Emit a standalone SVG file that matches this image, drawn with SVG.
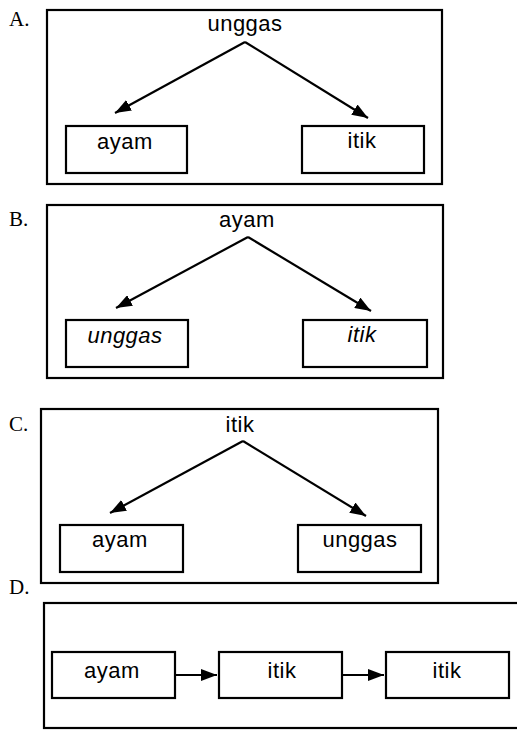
<svg xmlns="http://www.w3.org/2000/svg" width="517" height="730" viewBox="0 0 517 730">
<defs>
<marker id="ah" viewBox="0 0 16 12" refX="16" refY="6" markerWidth="16" markerHeight="12" markerUnits="userSpaceOnUse" orient="auto">
<path d="M0,0 L16,6 L0,12 Z" fill="#000"/>
</marker>
</defs>
<style>
.frame{fill:none;stroke:#000;stroke-width:2.2}
.box{fill:#fff;stroke:#000;stroke-width:2.2}
.lbl{font-family:"Liberation Serif",serif;font-size:21px;fill:#000}
.t{font-family:"Liberation Sans",Arial,sans-serif;font-size:22px;fill:#000;text-anchor:middle;letter-spacing:0.5px}
.it{font-style:italic}
.con{fill:none;stroke:#000;stroke-width:2.2;marker-end:url(#ah)}
</style>
<rect width="517" height="730" fill="#fff"/>
<text class="lbl" x="9" y="26">A.</text>
<text class="lbl" x="9" y="226">B.</text>
<text class="lbl" x="9" y="431">C.</text>
<text class="lbl" x="9" y="594">D.</text>
<g id="frameA"><rect class="frame" x="47" y="10" width="395" height="174"/></g>
<g id="frameB"><rect class="frame" x="47" y="205" width="396" height="173"/></g>
<g id="frameC"><rect class="frame" x="41" y="409" width="397" height="174"/></g>
<g id="frameD"><rect class="frame" x="44" y="603" width="480" height="125"/></g>
<g id="A-unggas"><text class="t" x="245" y="31">unggas</text></g>
<g id="A-ayam"><rect class="box" x="66" y="126" width="121" height="47"/><text class="t" x="125" y="149">ayam</text></g>
<g id="A-itik"><rect class="box" x="302" y="126" width="122" height="47"/><text class="t" x="362" y="148">itik</text></g>
<g id="B-ayam"><text class="t" x="247" y="227">ayam</text></g>
<g id="B-unggas"><rect class="box" x="66" y="320" width="122" height="47"/><text class="t it" x="125" y="343">unggas</text></g>
<g id="B-itik"><rect class="box" x="303" y="320" width="124" height="47"/><text class="t it" x="362" y="342">itik</text></g>
<g id="C-itik"><text class="t" x="240" y="432">itik</text></g>
<g id="C-ayam"><rect class="box" x="60" y="525" width="123" height="47"/><text class="t" x="120" y="547">ayam</text></g>
<g id="C-unggas"><rect class="box" x="298" y="525" width="123" height="47"/><text class="t" x="360" y="547">unggas</text></g>
<g id="D-ayam"><rect class="box" x="52" y="652" width="123" height="46"/><text class="t" x="112" y="678">ayam</text></g>
<g id="D-itik1"><rect class="box" x="219" y="652" width="123" height="46"/><text class="t" x="282" y="678">itik</text></g>
<g id="D-itik2"><rect class="box" x="386" y="652" width="123" height="46"/><text class="t" x="447" y="678">itik</text></g>
<g id="connectors">
<line class="con" x1="245" y1="42" x2="115" y2="113"/>
<line class="con" x1="245" y1="42" x2="368" y2="118"/>
<line class="con" x1="248" y1="237" x2="116" y2="308"/>
<line class="con" x1="248" y1="237" x2="371" y2="311"/>
<line class="con" x1="243" y1="441" x2="110" y2="513"/>
<line class="con" x1="243" y1="441" x2="366" y2="516"/>
<line class="con" x1="175" y1="675" x2="217" y2="675"/>
<line class="con" x1="342" y1="675" x2="384" y2="675"/>
</g>
</svg>
